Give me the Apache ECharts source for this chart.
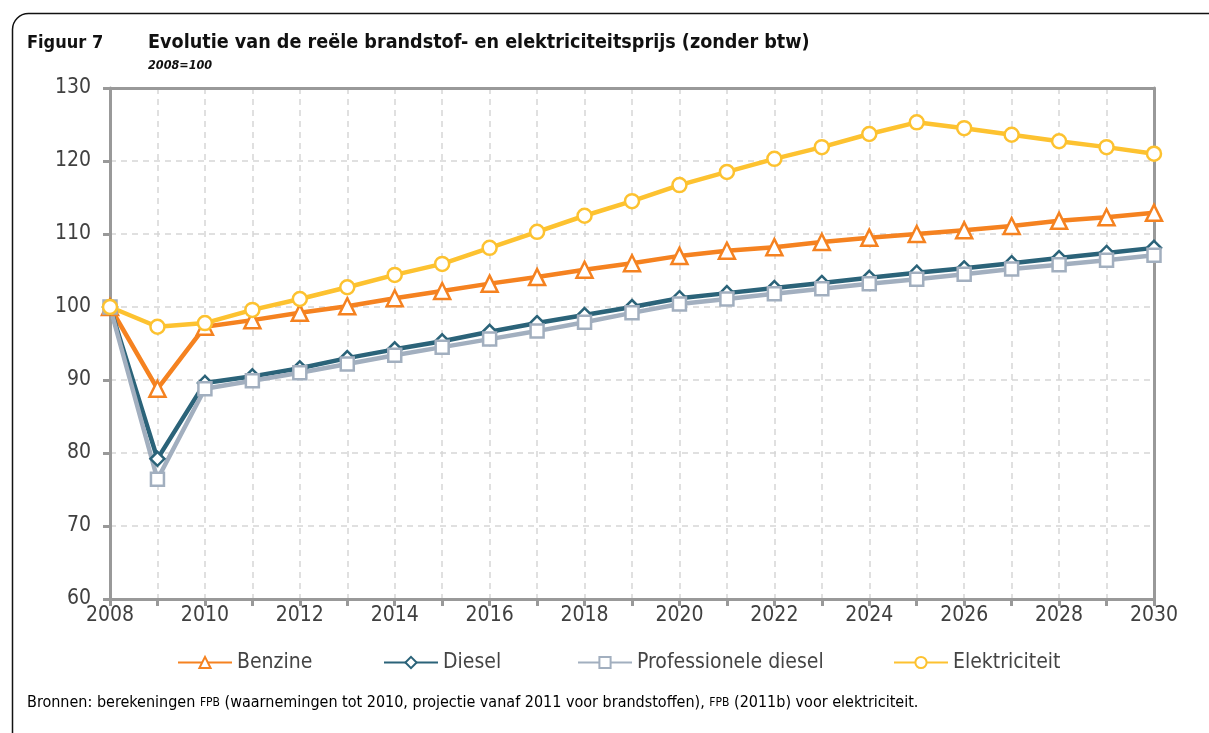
<!DOCTYPE html>
<html>
<head>
<meta charset="utf-8">
<title>Figuur 7</title>
<script src="https://cdn.jsdelivr.net/npm/echarts@6/dist/echarts.min.js"></script>
<style>
    html, body { margin: 0; padding: 0; background: #fff; }
    #main { width: 1209px; height: 733px; }
</style>
</head>
<body>
<div id="main"></div>
<script>
    // jaren en reeksen (2008=100)
    var years = ['2008','2009','2010','2011','2012','2013','2014','2015','2016','2017','2018','2019',
                 '2020','2021','2022','2023','2024','2025','2026','2027','2028','2029','2030'];
    var benzine = [100, 88.8, 97.3, 98.2, 99.2, 100.1, 101.2, 102.2, 103.2, 104.1, 105.1, 106.0,
                   107.0, 107.7, 108.2, 108.9, 109.5, 110.0, 110.5, 111.1, 111.8, 112.3, 112.9];
    var diesel = [100, 79.2, 89.6, 90.5, 91.6, 93.0, 94.2, 95.3, 96.6, 97.8, 98.9, 100.0,
                  101.2, 101.9, 102.6, 103.3, 104.0, 104.7, 105.3, 106.0, 106.7, 107.4, 108.1];
    var profDiesel = [100, 76.4, 88.8, 89.9, 91.0, 92.2, 93.4, 94.5, 95.6, 96.7, 97.9, 99.2,
                      100.4, 101.1, 101.8, 102.5, 103.2, 103.8, 104.5, 105.2, 105.8, 106.4, 107.1];
    var elektriciteit = [100, 97.3, 97.8, 99.6, 101.1, 102.7, 104.4, 105.9, 108.1, 110.3, 112.5, 114.5,
                         116.7, 118.5, 120.3, 121.9, 123.7, 125.3, 124.5, 123.6, 122.7, 121.9, 121.0];
    var yTicks = [60, 130, 10]; // min, max, interval

    var FONT = '"DejaVu Sans Condensed", "DejaVu Sans"';
    var myChart = echarts.init(document.getElementById('main'));

    function lijn(name, data, color, symbol, size) {
        return {
            name: name,
            type: 'line',
            data: data,
            symbol: symbol,
            symbolSize: size,
            lineStyle: { color: color, width: 4.5 },
            itemStyle: { color: '#fff', borderColor: color, borderWidth: 2.5 },
            emphasis: { disabled: true }
        };
    }

    function legende(name, left) {
        return {
            data: [name],
            left: left,
            top: 652,
            padding: 0,
            itemWidth: 54,
            itemHeight: 14,
            itemGap: 0,
            textStyle: { fontFamily: FONT, fontSize: 21, color: '#444' }
        };
    }

    var randAs = { show: true, lineStyle: { color: '#999', width: 3 } };

    myChart.setOption({
        animation: false,
        textStyle: { fontFamily: FONT },
        graphic: [
            {
                type: 'rect',
                shape: { x: 12.5, y: 13.5, width: 1400, height: 900, r: 16 },
                style: { fill: 'none', stroke: '#111', lineWidth: 1.5 },
                silent: true
            },
            {
                type: 'text', left: 27, top: 34,
                style: { text: 'Figuur 7', font: 'bold 18px ' + FONT, fill: '#111' }
            },
            {
                type: 'text', left: 148, top: 33,
                style: { text: 'Evolutie van de reële brandstof- en elektriciteitsprijs (zonder btw)',
                         font: 'bold 19.6px ' + FONT, fill: '#111' }
            },
            {
                type: 'text', left: 148, top: 59,
                style: { text: '2008=100', font: 'italic bold 12.5px ' + FONT, fill: '#111' }
            },
            {
                type: 'text', left: 27, top: 695,
                style: {
                    text: '{a|Bronnen: berekeningen }{s|FPB}{a| (waarnemingen tot 2010, projectie vanaf 2011 voor brandstoffen), }{s|FPB}{a| (2011b) voor elektriciteit.}',
                    rich: {
                        a: { fontFamily: FONT, fontSize: 16, color: '#111' },
                        s: { fontFamily: FONT, fontSize: 12, color: '#111' }
                    }
                }
            }
        ],
        legend: [
            legende('Benzine', 177),
            legende('Diesel', 383),
            legende('Professionele diesel', 577),
            legende('Elektriciteit', 893)
        ],
        grid: { left: 110, right: 55, top: 88, bottom: 134 },
        xAxis: [
            {
                type: 'category',
                data: years,
                boundaryGap: false,
                axisLine: randAs,
                axisTick: { show: true, interval: 0, length: 7, lineStyle: { color: '#999', width: 3 } },
                axisLabel: { interval: 1, color: '#404040', fontSize: 21, margin: 6 },
                splitLine: { show: true, interval: 0, lineStyle: { color: '#d6d6d6', type: [6, 5], width: 1.5 } }
            },
            {
                type: 'category', data: years, position: 'top', boundaryGap: false,
                axisLine: randAs, axisTick: { show: false }, axisLabel: { show: false }, splitLine: { show: false }
            }
        ],
        yAxis: [
            {
                type: 'value',
                min: yTicks[0], max: yTicks[1], interval: yTicks[2],
                axisLine: randAs,
                axisTick: { show: true, length: 7, lineStyle: { color: '#999', width: 3 } },
                axisLabel: { color: '#404040', fontSize: 21, margin: 19 },
                splitLine: { show: true, lineStyle: { color: '#d6d6d6', type: [6, 5], width: 1.5 } }
            },
            {
                type: 'value', position: 'right',
                min: yTicks[0], max: yTicks[1], interval: yTicks[2],
                axisLine: randAs, axisTick: { show: false }, axisLabel: { show: false }, splitLine: { show: false }
            }
        ],
        series: [
            lijn('Benzine', benzine, '#F58220', 'triangle', 16),
            lijn('Diesel', diesel, '#2B6379', 'diamond', 14),
            lijn('Professionele diesel', profDiesel, '#A2AFBF', 'rect', 13),
            lijn('Elektriciteit', elektriciteit, '#FDC230', 'circle', 14)
        ]
    });
</script>
</body>
</html>
